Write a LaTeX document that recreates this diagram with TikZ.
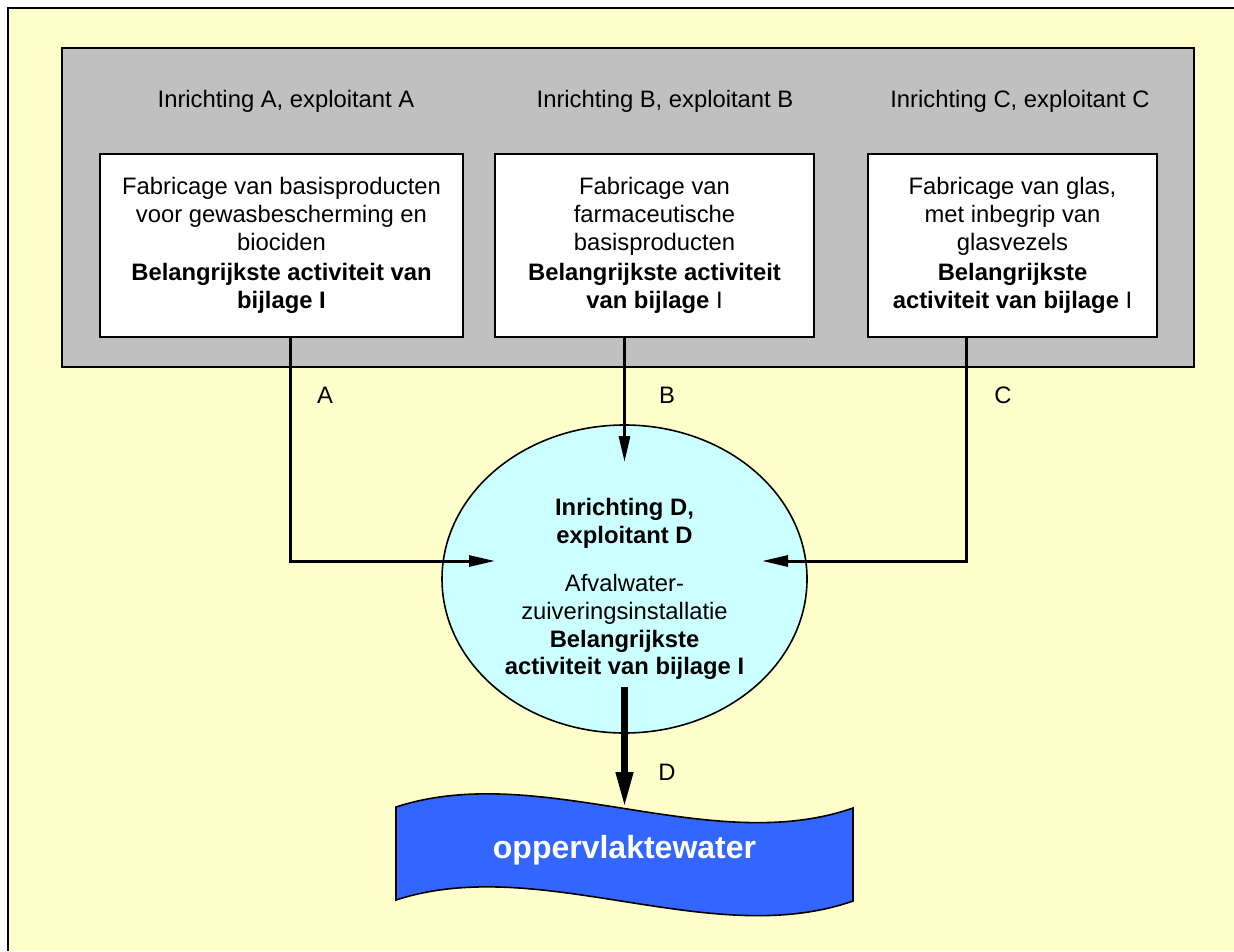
\documentclass[tikz,border=0pt]{standalone}
\usepackage{fontspec}
\setmainfont{Liberation Sans}
\usetikzlibrary{arrows.meta,shapes.geometric}
\definecolor{paper}{HTML}{FFFFCC}
\definecolor{plantgray}{HTML}{C0C0C0}
\definecolor{plantcyan}{HTML}{CCFFFF}
\definecolor{waterblue}{HTML}{3366FF}

\begin{document}
\begin{tikzpicture}[x=0.5pt,y=-0.5pt,
  font=\fontsize{11.9}{14}\selectfont,
  procbox/.style={draw,line width=1pt,fill=white,align=center,minimum height=91.5pt,inner sep=0pt},
  flow/.style={line width=1.5pt,-{Triangle[length=13pt,width=5.5pt]}},
  bigflow/.style={line width=3.5pt,-{Triangle[length=18pt,width=8pt]}}]
\useasboundingbox (0,0) rectangle (1234,951);
\fill[paper] (8,8) rectangle (1234,951);
\draw[line width=1pt] (1234,8) -- (8,8) -- (8,951);
\draw[line width=1pt,fill=plantgray] (62,48) rectangle (1194,367);

% installaties A, B en C
\node (titleA) at (286,101) {Inrichting A, exploitant A};
\node (titleB) at (665,101) {Inrichting B, exploitant B};
\node (titleC) at (1020,101) {Inrichting C, exploitant C};
\node[procbox,minimum width=181.5pt] (boxA) at (281.5,245.5)
  {Fabricage van basisproducten\\voor gewasbescherming en\\biociden\\[1pt]
   \textbf{Belangrijkste activiteit van}\\\textbf{bijlage I}};
\node[procbox,minimum width=159.5pt] (boxB) at (654.5,245.5)
  {Fabricage van\\farmaceutische\\basisproducten\\[1pt]
   \textbf{Belangrijkste activiteit}\\\textbf{van bijlage} I};
\node[procbox,minimum width=144.5pt] (boxC) at (1012.5,245.5)
  {Fabricage van glas,\\met inbegrip van\\glasvezels\\[1pt]
   \textbf{Belangrijkste}\\\textbf{activiteit van bijlage} I};

% installatie D
\node[ellipse,draw,line width=0.8pt,fill=plantcyan,minimum width=182.5pt,minimum height=154pt,inner sep=0pt]
  (ellD) at (624.5,579) {};
\node[align=center,font=\fontsize{11.9}{13.8}\selectfont] (ellText) at (624.5,589)
  {\textbf{Inrichting D,}\\\textbf{exploitant D}\\[10.5pt]
   Afvalwater-\\zuiveringsinstallatie\\\textbf{Belangrijkste}\\\textbf{activiteit van bijlage I}};

% oppervlaktewater
\draw[line width=0.8pt,fill=waterblue] (396,807) .. controls (540,760) and (710,858) .. (853,808)
  -- (853,901) .. controls (710,951) and (540,853) .. (396,900) -- cycle;
\node[text=white,font=\fontsize{16}{19}\bfseries] (water) at (624.5,850) {oppervlaktewater};

% stromen
\coordinate (jA) at (290,561);
\coordinate (jC) at (966,561);
\coordinate (tipA) at (495,561);
\coordinate (tipB) at (624.5,462);
\coordinate (tipC) at (762,561);
\coordinate (outD) at (624.5,687);
\coordinate (tipD) at (624.5,808);
\draw[flow] (boxA.south -| jA) -- (jA) -- (tipA);
\draw[flow] (boxB.south -| tipB) -- (tipB);
\draw[flow] (boxC.south -| jC) -- (jC) -- (tipC);
\draw[bigflow] (outD) -- (tipD);
\node (labA) at (325,395) {A};
\node (labB) at (667,395) {B};
\node (labC) at (1003,395) {C};
\node (labD) at (667,772) {D};
\end{tikzpicture}
\end{document}
